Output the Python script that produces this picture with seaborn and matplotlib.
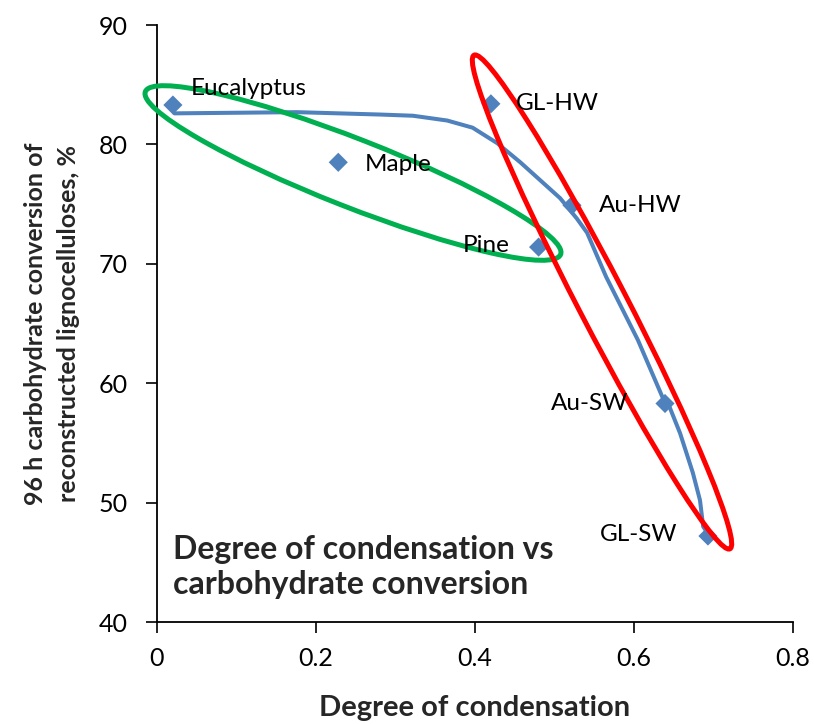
import matplotlib
matplotlib.use("Agg")
import matplotlib.pyplot as plt
from matplotlib.patches import Ellipse
from matplotlib.transforms import Affine2D
import seaborn as sns
import pandas as pd

# ---- data ----
names = ["Eucalyptus", "Maple", "Pine", "GL-HW", "Au-HW", "Au-SW", "GL-SW"]
condensation = [0.020, 0.228, 0.480, 0.420, 0.522, 0.639, 0.693]
conversion = [83.3, 78.5, 71.4, 83.4, 74.9, 58.3, 47.2]

curve_x = [0.022, 0.176, 0.281, 0.322, 0.365, 0.397, 0.428, 0.457, 0.482, 0.507,
           0.528, 0.541, 0.552, 0.565, 0.605, 0.636, 0.643, 0.658, 0.674, 0.683,
           0.687, 0.692]
curve_y = [82.6, 82.7, 82.5, 82.4, 82.0, 81.4, 80.1, 78.5, 77.0, 75.5,
           73.8, 72.6, 70.9, 68.9, 63.6, 58.8, 58.3, 55.8, 52.5, 50.2,
           48.0, 47.5]

x_ticks = [0, 0.2, 0.4, 0.6, 0.8]
x_ticklabels = ["0", "0.2", "0.4", "0.6", "0.8"]
y_ticks = [40, 50, 60, 70, 80, 90]

sns.set_style("white")
plt.rcParams["font.family"] = ["Lato", "DejaVu Sans"]

W, H = 814, 724
fig = plt.figure(figsize=(W / 100, H / 100), dpi=100)
ax_l, ax_r, ax_t, ax_b = 157, 793, 25, 622
ax = fig.add_axes([ax_l / W, (H - ax_b) / H, (ax_r - ax_l) / W, (ax_b - ax_t) / H])

blue = "#4F81BD"
pts = pd.DataFrame({"name": names, "x": condensation, "y": conversion})
curve = pd.DataFrame({"x": curve_x, "y": curve_y})

sns.lineplot(data=curve, x="x", y="y", sort=False, color=blue, lw=2.9, ax=ax, zorder=2)
sns.scatterplot(data=pts, x="x", y="y", marker="D", s=95, color=blue,
                edgecolor="none", ax=ax, zorder=3)

offsets = {
    "Eucalyptus": (18, 16, "left"),
    "Maple": (26, -2, "left"),
    "Pine": (-29, 2, "right"),
    "GL-HW": (25, 0, "left"),
    "Au-HW": (27, 0, "left"),
    "Au-SW": (-37, 0, "right"),
    "GL-SW": (-31, 2, "right"),
}
for n, xv, yv in zip(names, condensation, conversion):
    dx, dy, ha = offsets[n]
    ax.annotate(n, (xv, yv), xytext=(dx, dy), textcoords="offset pixels",
                ha=ha, va="center", fontsize=17.5, color="black", zorder=5)

# ellipses drawn in pixel units relative to the axes
aw, ah = ax_r - ax_l, ax_b - ax_t
ptrans = Affine2D().scale(1 / aw, 1 / ah) + ax.transAxes
ax.add_patch(Ellipse((353 - ax_l, ax_b - 173), 446, 68, angle=-21.4,
                     fill=False, ec="#00B050", lw=3.6, transform=ptrans,
                     zorder=4, clip_on=False))
ax.add_patch(Ellipse((602 - ax_l, ax_b - 302), 556, 48, angle=-62.6,
                     fill=False, ec="#FF0000", lw=3.6, transform=ptrans,
                     zorder=4, clip_on=False))

ax.text(16 / aw, (ax_b - 567) / ah,
        "Degree of condensation vs\ncarbohydrate conversion",
        transform=ax.transAxes, ha="left", va="center", fontsize=23,
        fontweight="bold", linespacing=1.25, zorder=5)

ax.set_xlim(0, 0.8)
ax.set_ylim(40, 90)
ax.set_xticks(x_ticks)
ax.set_xticklabels(x_ticklabels)
ax.set_yticks(y_ticks)
ax.tick_params(axis="x", direction="out", length=8, width=1.2, pad=10,
               labelsize=18, colors="black", bottom=True)
ax.tick_params(axis="y", direction="out", length=8, width=1.2, pad=13,
               labelsize=18, colors="black", left=True)

for s in ["top", "right"]:
    ax.spines[s].set_visible(False)
for s in ["left", "bottom"]:
    ax.spines[s].set_color("black")
    ax.spines[s].set_linewidth(1.3)

ax.set_xlabel("Degree of condensation", fontsize=21, fontweight="bold", va="center")
ax.xaxis.set_label_coords(0.5, (ax_b - 708) / ah)
ax.set_ylabel("96 h carbohydrate conversion of\nreconstructed lignocelluloses, %",
              fontsize=18, fontweight="bold", linespacing=1.55,
              va="center", ha="center")
ax.yaxis.set_label_coords((52 - ax_l) / aw, 0.5)

fig.savefig("out.png", dpi=100)
